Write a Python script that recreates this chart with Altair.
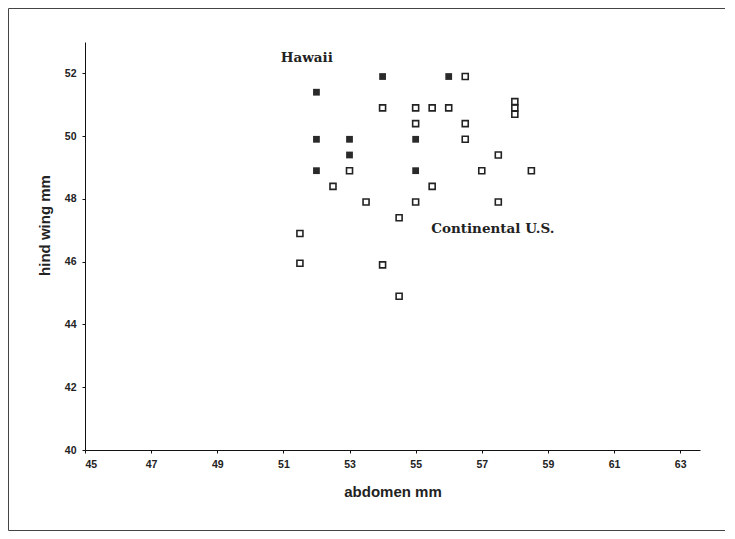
import altair as alt
import pandas as pd

# Hawaii (filled squares)
hawaii_x = [54, 56, 52, 52, 53, 55, 53, 52, 55]
hawaii_y = [51.9, 51.9, 51.4, 49.9, 49.9, 49.9, 49.4, 48.9, 48.9]

# Continental U.S. (open squares)
cont_x = [56.5, 54, 55, 55.5, 56, 58, 58, 58, 55, 56.5, 56.5, 57.5, 53, 57, 58.5,
          52.5, 55.5, 53.5, 55, 57.5, 54.5, 51.5, 51.5, 54, 54.5]
cont_y = [51.9, 50.9, 50.9, 50.9, 50.9, 51.1, 50.9, 50.7, 50.4, 50.4, 49.9, 49.4, 48.9, 48.9, 48.9,
          48.4, 48.4, 47.9, 47.9, 47.9, 47.4, 46.9, 45.95, 45.9, 44.9]

label_text = ["Hawaii", "Continental U.S."]
label_x = [50.92, 55.47]
label_y = [52.48, 47.04]

x_ticks = [45, 47, 49, 51, 53, 55, 57, 59, 61, 63]
y_ticks = [40, 42, 44, 46, 48, 50, 52]

hawaii = pd.DataFrame({"abdomen": hawaii_x, "wing": hawaii_y})
cont = pd.DataFrame({"abdomen": cont_x, "wing": cont_y})
labels = pd.DataFrame({"abdomen": label_x, "wing": label_y, "text": label_text})

xs = alt.Scale(domain=[45, 63.6], nice=False, zero=False)
ys = alt.Scale(domain=[40, 53], nice=False, zero=False)

x_axis = alt.Axis(values=x_ticks, grid=False, title="abdomen mm", tickSize=3,
                  labelPadding=6, labelFontSize=10.5, labelFont="Liberation Sans",
                  labelFontWeight="bold", labelColor="#222", titleFont="Liberation Sans",
                  titleFontSize=15, titleFontWeight="bold", titleColor="#222",
                  titlePadding=15, domainColor="#111", tickColor="#111")
y_axis = alt.Axis(values=y_ticks, grid=False, title="hind wing mm", tickSize=3,
                  labelPadding=6, labelFontSize=10.5, labelFont="Liberation Sans",
                  labelFontWeight="bold", labelColor="#222", titleFont="Liberation Sans",
                  titleFontSize=15, titleFontWeight="bold", titleColor="#222",
                  titleX=-41, titleY=183, titleAngle=270, titleAlign="center",
                  titleBaseline="middle", domainColor="#111", tickColor="#111")

open_pts = alt.Chart(cont).mark_point(shape="square", filled=False, size=36,
                                      stroke="#222", strokeWidth=1.6, opacity=1).encode(
    x=alt.X("abdomen:Q", scale=xs, axis=x_axis),
    y=alt.Y("wing:Q", scale=ys, axis=y_axis),
)

filled_pts = alt.Chart(hawaii).mark_square(size=46, color="#2a2a2a", opacity=1).encode(
    x=alt.X("abdomen:Q", scale=xs),
    y=alt.Y("wing:Q", scale=ys),
)

text = alt.Chart(labels).mark_text(align="left", baseline="middle", font="DejaVu Serif",
                                   fontWeight="bold", fontSize=13.5, color="#222").encode(
    x=alt.X("abdomen:Q", scale=xs),
    y=alt.Y("wing:Q", scale=ys),
    text="text:N",
)

frame = alt.Chart(pd.DataFrame({"a": [0]})).mark_rect(
    fillOpacity=0, stroke="#444", strokeWidth=1).encode(
    x=alt.value(-76.5), x2=alt.value(640.5), y=alt.value(-33.5), y2=alt.value(488.5)
)

chart = alt.layer(frame, open_pts, filled_pts, text).properties(
    width=615, height=408,
    autosize=alt.AutoSizeParams(type="none"),
    padding={"left": 77, "top": 34, "right": 25, "bottom": 84},
    background="white",
).configure_view(stroke=None)

chart.save("out.html", embed_options={"renderer": "svg", "actions": False})
